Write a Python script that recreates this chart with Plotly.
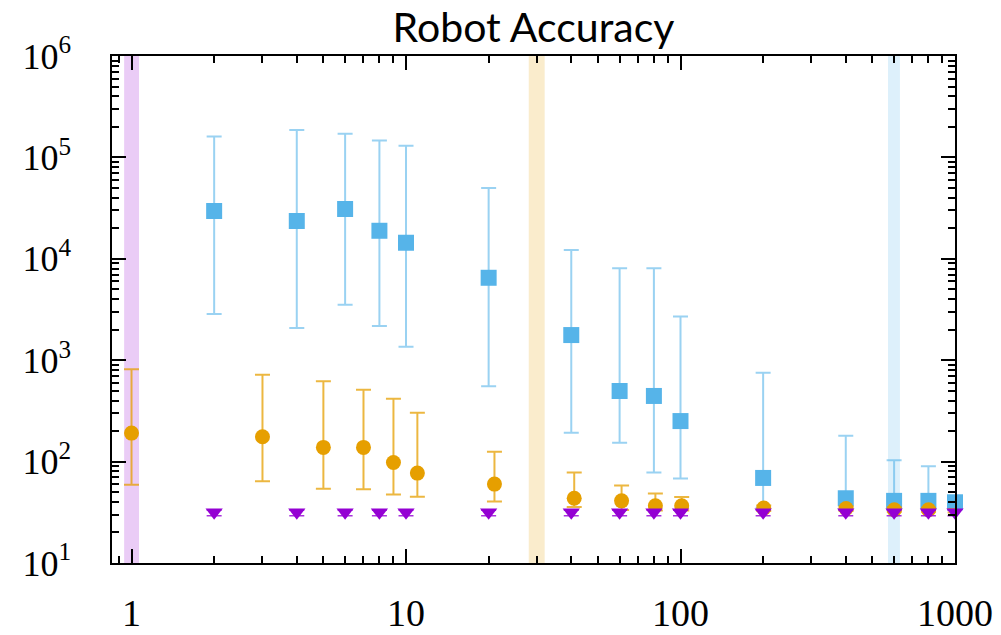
import numpy as np
import plotly.graph_objects as go

# ---------------- data ----------------
blue_x = [2, 4, 6, 8, 10, 20, 40, 60, 80, 100, 200, 400, 600, 800, 1000]
blue_y = [29600, 23600, 31000, 18900, 14400, 6500, 1770, 497, 444, 251, 69, 43.5, 41, 41, 39.7]
blue_hi = [161000, 186000, 171000, 147000, 130000, 49900, 12200, 8050, 8050, 2690, 753, 180, 103, 90, 45]
blue_lo = [2860, 2080, 3520, 2170, 1360, 553, 193, 153, 78, 68, 35, 34, 34, 34, 34]

orange_x = [1, 3, 5, 7, 9, 11, 21, 41, 61, 81, 101, 201, 401, 601, 801, 1001]
orange_y = [191, 176, 138, 138, 98, 77, 60, 43.5, 41, 36.7, 36.7, 34.8, 34.5, 33.5, 33.5, 32.6]
orange_hi = [815, 719, 620, 512, 417, 303, 125, 78, 58, 48.6, 44.8, 37, 36, 35.5, 35, 34]
orange_lo = [59, 64, 54, 53.4, 47.5, 45, 40.3, 35.6, 33.3, 33, 33, 32.5, 32.5, 32, 32, 31.5]

purple_x = [2, 4, 6, 8, 10, 20, 40, 60, 80, 100, 200, 400, 600, 800, 1000]
purple_y = [31.6] * 15
purple_hi = [33.2] * 15
purple_lo = [29.2] * 15

band_lo = [0.94, 28, 570]
band_hi = [1.065, 32, 630]
band_colors = ["#EACCF6", "#FAECCC", "#DDF0FB"]

x_ticks = [1, 10, 100, 1000]
x_ticktext = ["1", "10", "100", "1000"]
y_ticks = [10, 100, 1000, 1e4, 1e5, 1e6]
y_ticktext = ["10<sup>1</sup>", "10<sup>2</sup>", "10<sup>3</sup>",
              "10<sup>4</sup>", "10<sup>5</sup>", "10<sup>6</sup>"]

BLUE = "#56B4E9"
ORANGE = "#E69F00"
PURPLE = "#9400D3"

def errs(y, hi, lo):
    return [h - v for v, h in zip(y, hi)], [v - l for v, l in zip(y, lo)]

fig = go.Figure()

for lo, hi, c in zip(band_lo, band_hi, band_colors):
    fig.add_shape(type="rect", xref="x", yref="paper", x0=lo, x1=hi, y0=0, y1=1,
                  fillcolor=c, line_width=0, layer="below")

bp, bm = errs(blue_y, blue_hi, blue_lo)
fig.add_trace(go.Scatter(
    x=blue_x, y=blue_y, mode="markers", cliponaxis=False,
    marker=dict(symbol="square", size=16, color=BLUE),
    error_y=dict(type="data", symmetric=False, array=bp, arrayminus=bm,
                 color="rgba(86,180,233,0.6)", thickness=2, width=7.5),
    showlegend=False))

op, om = errs(orange_y, orange_hi, orange_lo)
fig.add_trace(go.Scatter(
    x=orange_x, y=orange_y, mode="markers", cliponaxis=False,
    marker=dict(symbol="circle", size=15, color=ORANGE),
    error_y=dict(type="data", symmetric=False, array=op, arrayminus=om,
                 color="rgba(230,159,0,0.75)", thickness=2, width=7.5),
    showlegend=False))

pp, pm = errs(purple_y, purple_hi, purple_lo)
fig.add_trace(go.Scatter(
    x=purple_x, y=purple_y, mode="markers", cliponaxis=False,
    marker=dict(symbol="triangle-down", size=15, color=PURPLE),
    error_y=dict(type="data", symmetric=False, array=pp, arrayminus=pm,
                 color="rgba(148,0,211,0.8)", thickness=1.5, width=7.5),
    showlegend=False))

x_minor = [k * 10.0 ** d for d in range(-1, 3) for k in range(2, 10)]
y_minor = [k * 10.0 ** d for d in range(1, 6) for k in range(2, 10)]

fig.update_layout(
    width=1001, height=635,
    margin=dict(l=112, r=46, t=56, b=72),
    plot_bgcolor="white", paper_bgcolor="white",
    title=dict(text="Robot Accuracy", x=0.5, xref="paper", xanchor="center",
               y=1 - 28 / 635, yref="container", yanchor="middle",
               font=dict(family="Lato", size=41, color="black")),
    font=dict(family="Liberation Serif", color="black"),
)

fig.update_xaxes(
    type="log", range=[np.log10(0.849), 3], automargin=False,
    tickmode="array", tickvals=x_ticks, ticktext=x_ticktext,
    ticks="inside", ticklen=14, tickwidth=1.5, tickcolor="black",
    minor=dict(tickmode="array", tickvals=x_minor, ticks="inside", ticklen=7,
               tickwidth=1.5, tickcolor="black", showgrid=False),
    showline=True, linecolor="black", linewidth=1.5, mirror="ticks",
    showgrid=False, zeroline=False,
    tickfont=dict(family="Liberation Serif", size=38, color="black"),
    ticklabelstandoff=16,
)
fig.update_yaxes(
    type="log", range=[1, 6], automargin=False,
    tickmode="array", tickvals=y_ticks, ticktext=y_ticktext,
    ticks="inside", ticklen=14, tickwidth=1.5, tickcolor="black",
    minor=dict(tickmode="array", tickvals=y_minor, ticks="inside", ticklen=7,
               tickwidth=1.5, tickcolor="black", showgrid=False),
    showline=True, linecolor="black", linewidth=1.5, mirror="ticks",
    showgrid=False, zeroline=False,
    tickfont=dict(family="Liberation Serif", size=36, color="black"),
    ticklabelstandoff=32,
)

fig.write_html("out.html")
